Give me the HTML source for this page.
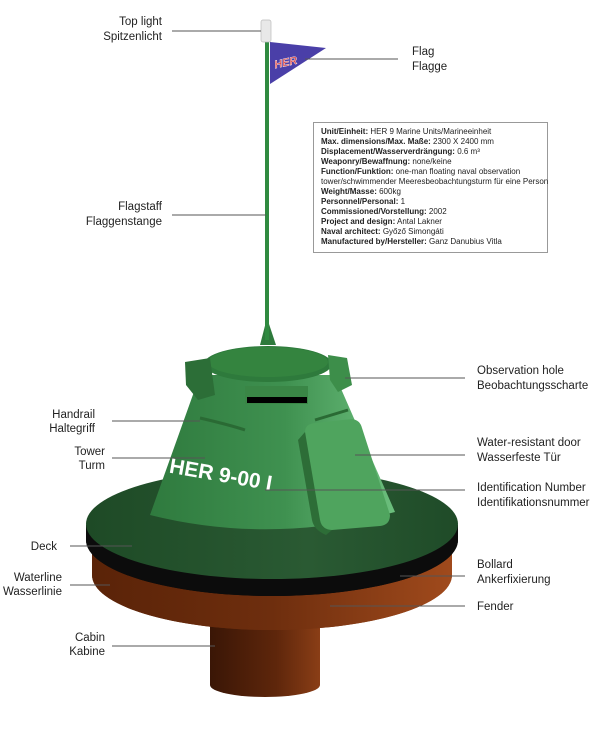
<!DOCTYPE html>
<html><head><meta charset="utf-8"><style>
html,body{margin:0;padding:0;background:#fff}
svg{display:block}
.t{font-family:"Liberation Sans",sans-serif;font-size:11.5px;fill:#222}
.b{font-family:"Liberation Sans",sans-serif;font-size:8px;fill:#222}
.b tspan.k{font-weight:bold}
</style></head><body>
<svg width="602" height="737" viewBox="0 0 602 737" xmlns="http://www.w3.org/2000/svg">
<defs>
<linearGradient id="tw" x1="0" x2="1" y1="0" y2="0">
<stop offset="0" stop-color="#2f7a3e"/><stop offset="0.55" stop-color="#3f9150"/><stop offset="1" stop-color="#6cbf7d"/></linearGradient>
<linearGradient id="br" x1="0" x2="1" y1="0" y2="0">
<stop offset="0" stop-color="#5a2308"/><stop offset="0.5" stop-color="#6e2e0e"/><stop offset="1" stop-color="#a04a1c"/></linearGradient>
<linearGradient id="cb" x1="0" x2="1" y1="0" y2="0">
<stop offset="0" stop-color="#3a1606"/><stop offset="0.6" stop-color="#5e260b"/><stop offset="1" stop-color="#8a3e16"/></linearGradient>
<linearGradient id="dk" x1="0" x2="1" y1="0" y2="0">
<stop offset="0" stop-color="#1e4a26"/><stop offset="0.6" stop-color="#2a5a33"/><stop offset="1" stop-color="#1f4b28"/></linearGradient>
</defs>
<!-- cabin -->
<path d="M210 600 L210 685 A55 12 0 0 0 320 685 L320 600 Z" fill="url(#cb)"/>
<!-- hull -->
<path d="M92 545 L92 575 A180 55 0 0 0 452 575 L452 545 Z" fill="url(#br)"/>
<ellipse cx="272" cy="575" rx="180" ry="55" fill="url(#br)"/>
<!-- black band -->
<path d="M86 525 L86 540 A186 56 0 0 0 458 540 L458 525 Z" fill="#0c0c0c"/>
<ellipse cx="272" cy="540" rx="186" ry="56" fill="#0c0c0c"/>
<!-- deck -->
<ellipse cx="272" cy="524" rx="186" ry="55" fill="url(#dk)"/>
<!-- tower -->
<path d="M200 375 L150 515 Q270 545 395 512 L335 375 Z" fill="url(#tw)"/>
<ellipse cx="268" cy="364" rx="64" ry="18" fill="#2e7a3c"/>
<ellipse cx="268" cy="362" rx="60" ry="15" fill="#34843f"/>
<!-- blocks -->
<path d="M185 362 L210 358 L215 395 L198 400 L186 385 Z" fill="#2c6e37"/>
<path d="M328 355 L347 358 L352 385 L338 392 L330 380 Z" fill="#3d8e4a"/>
<rect x="245" y="386" width="63" height="18" fill="#3a8646"/>
<rect x="247" y="397" width="60" height="6" fill="#000"/>
<!-- handrails -->
<path d="M200 418 Q230 425 245 430" stroke="#2a6a34" stroke-width="3" fill="none"/>
<path d="M315 420 Q335 414 348 410" stroke="#2a6a34" stroke-width="3" fill="none"/>
<!-- door -->
<path d="M305 432 Q305 424 315 423 L352 419 Q360 420 362 428 L390 515 Q390 525 380 526 L332 530 Q322 530 320 520 Z" fill="#4fa45e"/>
<path d="M305 432 L320 520 Q322 530 332 530 L326 535 Q314 530 312 520 L298 440 Z" fill="#2d6d37"/>
<!-- pole -->
<path d="M267 318 L260 345 L276 345 Z" fill="#2e7a3c"/>
<rect x="265" y="40" width="4" height="300" fill="#2f8a40"/>
<rect x="261" y="20" width="10" height="22" rx="2" fill="#e8e8e8" stroke="#bbb" stroke-width="0.7"/>
<path d="M270 42 L326 48 L270 84 Z" fill="#4a3fa8"/>
<text x="274" y="66" transform="rotate(-12 286 62)" font-family="Liberation Sans,sans-serif" font-weight="bold" font-style="italic" font-size="11" fill="#d84040" stroke="#fff" stroke-width="0.4">HER</text>
<text x="168" y="478" transform="rotate(10 200 478)" font-family="Liberation Sans,sans-serif" font-weight="bold" font-size="21" fill="#fff">HER 9-00 I</text>
<!-- leader lines -->
<g stroke="#555" stroke-width="1">
<line x1="172" y1="31" x2="261" y2="31"/>
<line x1="305" y1="59" x2="398" y2="59"/>
<line x1="172" y1="215" x2="266" y2="215"/>
<line x1="345" y1="378" x2="465" y2="378"/>
<line x1="112" y1="421" x2="200" y2="421"/>
<line x1="112" y1="458" x2="205" y2="458"/>
<line x1="355" y1="455" x2="465" y2="455"/>
<line x1="265" y1="490" x2="465" y2="490"/>
<line x1="70" y1="546" x2="132" y2="546"/>
<line x1="70" y1="585" x2="110" y2="585"/>
<line x1="400" y1="576" x2="465" y2="576"/>
<line x1="330" y1="606" x2="465" y2="606"/>
<line x1="112" y1="646" x2="215" y2="646"/>
</g>
<g class="t">
<text x="162" y="25" text-anchor="end">Top light</text><text x="162" y="40" text-anchor="end">Spitzenlicht</text>
<text x="412" y="55">Flag</text><text x="412" y="70">Flagge</text>
<text x="162" y="210" text-anchor="end">Flagstaff</text><text x="162" y="225" text-anchor="end">Flaggenstange</text>
<text x="477" y="374">Observation hole</text><text x="477" y="389">Beobachtungsscharte</text>
<text x="95" y="418" text-anchor="end">Handrail</text><text x="95" y="432" text-anchor="end">Haltegriff</text>
<text x="105" y="455" text-anchor="end">Tower</text><text x="105" y="469" text-anchor="end">Turm</text>
<text x="477" y="446">Water-resistant door</text><text x="477" y="461">Wasserfeste Tür</text>
<text x="477" y="491">Identification Number</text><text x="477" y="506">Identifikationsnummer</text>
<text x="57" y="550" text-anchor="end">Deck</text>
<text x="62" y="581" text-anchor="end">Waterline</text><text x="62" y="595" text-anchor="end">Wasserlinie</text>
<text x="477" y="568">Bollard</text><text x="477" y="583">Ankerfixierung</text>
<text x="477" y="610">Fender</text>
<text x="105" y="641" text-anchor="end">Cabin</text><text x="105" y="655" text-anchor="end">Kabine</text>
</g>
<rect x="313.5" y="122.5" width="234" height="130" fill="#fff" stroke="#999"/>
<g class="b">
<text x="321" y="134"><tspan class="k">Unit/Einheit:</tspan> HER 9 Marine Units/Marineeinheit</text>
<text x="321" y="144"><tspan class="k">Max. dimensions/Max. Maße:</tspan> 2300 X 2400 mm</text>
<text x="321" y="154"><tspan class="k">Displacement/Wasserverdrängung:</tspan> 0.6 m³</text>
<text x="321" y="164"><tspan class="k">Weaponry/Bewaffnung:</tspan> none/keine</text>
<text x="321" y="174"><tspan class="k">Function/Funktion:</tspan> one-man floating naval observation</text>
<text x="321" y="184">tower/schwimmender Meeresbeobachtungsturm für eine Person</text>
<text x="321" y="194"><tspan class="k">Weight/Masse:</tspan> 600kg</text>
<text x="321" y="204"><tspan class="k">Personnel/Personal:</tspan>  1</text>
<text x="321" y="214"><tspan class="k">Commissioned/Vorstellung:</tspan> 2002</text>
<text x="321" y="224"><tspan class="k">Project and design:</tspan> Antal Lakner</text>
<text x="321" y="234"><tspan class="k">Naval architect:</tspan> Győző Simongáti</text>
<text x="321" y="244"><tspan class="k">Manufactured by/Hersteller:</tspan> Ganz Danubius Vitla</text>
</g>
</svg>
</body></html>
